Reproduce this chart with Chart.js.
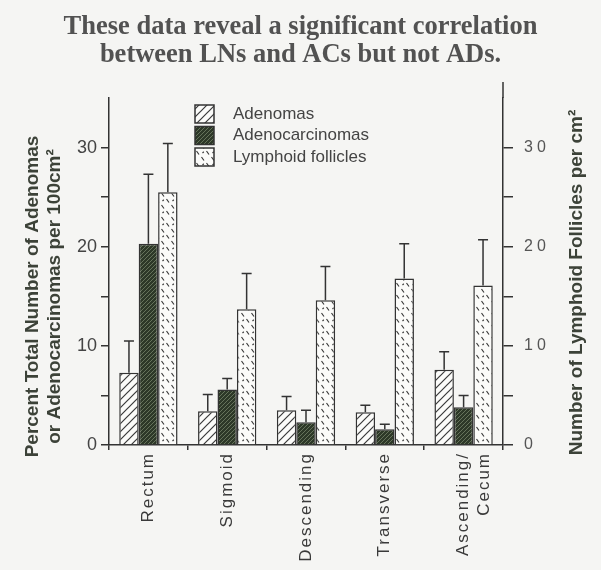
<!DOCTYPE html>
<html>
<head>
<meta charset="utf-8">
<script src="https://cdn.jsdelivr.net/npm/chart.js@4.4.0/dist/chart.umd.min.js"></script>
<style>
  html, body { margin: 0; padding: 0; background: #f5f5f3; }
  #wrap { width: 601px; height: 570px; }
</style>
</head>
<body>
<div id="wrap"><canvas id="cvs" width="601" height="570"></canvas></div>
<script>
;(function () {
  'use strict'

  var titleLines = ['These data reveal a significant correlation', 'between LNs and ACs but not ADs.']
  var categories = ['Rectum', 'Sigmoid', 'Descending', 'Transverse', ['Ascending/', 'Cecum']]
  var seriesNames = ['Adenomas', 'Adenocarcinomas', 'Lymphoid follicles']

  // left axis (percent per 100cm2)
  var adenomas = [7.3, 3.4, 3.5, 3.3, 7.6]
  var adenomasErr = [10.5, 5.1, 4.9, 4.0, 9.4]
  var adenocarcinomas = [20.3, 5.6, 2.3, 1.6, 3.8]
  var adenocarcinomasErr = [27.3, 6.7, 3.5, 2.1, 5.0]
  // right axis (follicles per cm2)
  var lymphoid = [25.5, 13.7, 14.6, 16.8, 16.1]
  var lymphoidErr = [30.4, 17.3, 18.0, 20.3, 20.7]

  var leftTitle = ['Percent Total Number of Adenomas', 'or Adenocarcinomas per 100cm\u00B2']
  var rightTitle = ['Number of Lymphoid Follicles per cm\u00B2']

  var ink = '#333333'
  var scratch = document.createElement('canvas').getContext('2d')

  var hatch = function (bg, fg, size, lw) {
    var c = document.createElement('canvas')
    c.width = size
    c.height = size
    var g = c.getContext('2d')
    g.fillStyle = bg
    g.fillRect(0, 0, size, size)
    g.strokeStyle = fg
    g.lineWidth = lw
    g.beginPath()
    g.moveTo(0, size)
    g.lineTo(size, 0)
    g.moveTo(-size / 2, size / 2)
    g.lineTo(size / 2, -size / 2)
    g.moveTo(size / 2, size * 1.5)
    g.lineTo(size * 1.5, size / 2)
    g.stroke()
    return scratch.createPattern(c, 'repeat')
  }

  var dashes = function () {
    var c = document.createElement('canvas')
    c.width = 10
    c.height = 12
    var g = c.getContext('2d')
    g.fillStyle = '#fbfbf9'
    g.fillRect(0, 0, 10, 12)
    g.strokeStyle = '#3a3a3a'
    g.lineWidth = 1.2
    g.beginPath()
    g.moveTo(1.5, 1)
    g.lineTo(4, 4.5)
    g.moveTo(6.5, 7)
    g.lineTo(9, 10.5)
    g.moveTo(2.5, 9)
    g.lineTo(3.8, 7.8)
    g.stroke()
    return scratch.createPattern(c, 'repeat')
  }

  var fills = [hatch('#fbfbf9', '#3a3a3a', 8, 1.2), hatch('#2d3828', '#66735b', 4, 1), dashes()]

  var background = {
    id: 'background',
    beforeDraw: function (chart) {
      var ctx = chart.ctx
      ctx.save()
      ctx.fillStyle = '#f5f5f3'
      ctx.fillRect(0, 0, chart.width, chart.height)
      ctx.restore()
    },
  }

  // spaced-out tick lettering as in the scan, and both axis titles read bottom-up
  var spacing = { x: '2px', y2: '4px' }
  var titleShift = { y: 25, y2: 11 }
  var scaleTweaks = {
    id: 'scaleTweaks',
    beforeDraw: function (chart) {
      Object.keys(spacing).forEach(function (id) {
        var scale = chart.scales[id]
        if (!scale || scale._spaced) return
        var orig = scale.drawLabels
        scale.drawLabels = function (area) {
          this.ctx.save()
          this.ctx.letterSpacing = spacing[id]
          orig.call(this, area)
          this.ctx.restore()
        }
        scale._spaced = true
      })
      Object.keys(titleShift).forEach(function (id) {
        var scale = chart.scales[id]
        if (!scale || scale._titled) return
        scale.drawTitle = function () {
          var t = this.options.title
          var lines = [].concat(t.text)
          var lh = t.font.size * t.font.lineHeight
          var ctx = this.ctx
          var x = this.position === 'left'
            ? this.left + t.padding.top + lh / 2
            : this.right - t.padding.top - lh / 2 - (lines.length - 1) * lh
          var y = (this.top + this.bottom) / 2 + titleShift[id]
          ctx.save()
          ctx.translate(x, y)
          ctx.rotate(-Math.PI / 2)
          ctx.font = 'bold ' + t.font.size + 'px ' + t.font.family
          ctx.fillStyle = t.color
          ctx.textAlign = 'center'
          ctx.textBaseline = 'middle'
          lines.forEach(function (line, k) {
            ctx.fillText(line, 0, k * lh)
          })
          ctx.restore()
        }
        scale._titled = true
      })
    },
  }

  var errorBars = {
    id: 'errorBars',
    afterDatasetsDraw: function (chart) {
      var ctx = chart.ctx
      ctx.save()
      ctx.strokeStyle = ink
      ctx.lineWidth = 1.5
      chart.data.datasets.forEach(function (ds, i) {
        var meta = chart.getDatasetMeta(i)
        var scale = chart.scales[ds.yAxisID]
        meta.data.forEach(function (bar, j) {
          var top = scale.getPixelForValue(ds.errorTop[j])
          ctx.beginPath()
          ctx.moveTo(bar.x, bar.y)
          ctx.lineTo(bar.x, top)
          ctx.moveTo(bar.x - 5, top)
          ctx.lineTo(bar.x + 5, top)
          ctx.stroke()
        })
      })
      // the right-hand axis line runs a little higher than the left one
      var r = chart.scales.y2
      ctx.beginPath()
      ctx.moveTo(r.left, chart.chartArea.top)
      ctx.lineTo(r.left, chart.chartArea.top - 16)
      ctx.stroke()
      ctx.restore()
    },
  }

  var boxLegend = {
    id: 'boxLegend',
    afterDraw: function (chart) {
      var ctx = chart.ctx
      ctx.save()
      ctx.font = '17px "Liberation Sans", Arial, sans-serif'
      ctx.textBaseline = 'middle'
      chart.data.datasets.forEach(function (ds, i) {
        var y = 105 + i * 21.5
        ctx.fillStyle = ds.backgroundColor
        ctx.fillRect(195, y, 19, 18)
        ctx.strokeStyle = ink
        ctx.lineWidth = 1.5
        ctx.strokeRect(195, y, 19, 18)
        ctx.fillStyle = '#444'
        ctx.fillText(ds.label, 233, y + 9)
      })
      ctx.restore()
    },
  }

  var tens = function (v) {
    return v % 10 === 0 ? String(v) : ''
  }
  var upTo30 = function (scale) {
    scale.ticks = scale.ticks.filter(function (t) {
      return t.value <= 30
    })
  }
  var axisTitleFont = { family: '"Liberation Sans", Arial, sans-serif', weight: 'bold', size: 19, lineHeight: 1.16 }

  var config = {
    type: 'bar',
    data: {
      labels: categories,
      datasets: [
        { label: seriesNames[0], data: adenomas, errorTop: adenomasErr, yAxisID: 'y', backgroundColor: fills[0] },
        { label: seriesNames[1], data: adenocarcinomas, errorTop: adenocarcinomasErr, yAxisID: 'y', backgroundColor: fills[1] },
        { label: seriesNames[2], data: lymphoid, errorTop: lymphoidErr, yAxisID: 'y2', backgroundColor: fills[2] },
      ],
    },
    options: {
      responsive: false,
      animation: false,
      devicePixelRatio: 1,
      layout: { padding: 0 },
      datasets: {
        bar: {
          borderColor: ink,
          borderWidth: 1.5,
          categoryPercentage: 0.74,
          barPercentage: 1,
        },
      },
      plugins: {
        legend: { display: false },
        tooltip: { enabled: false },
        title: {
          display: true,
          text: titleLines,
          color: '#525252',
          font: { family: '"Liberation Serif", "Times New Roman", serif', weight: 'bold', size: 26.5, lineHeight: 1.057 },
          padding: { top: 13, bottom: 29 },
        },
      },
      scales: {
        x: {
          grid: { offset: true, drawOnChartArea: false, tickLength: 5, color: ink, lineWidth: 1.5 },
          border: { color: ink, width: 1.5 },
          ticks: {
            color: '#3a3a3a',
            font: { family: '"Liberation Sans", Arial, sans-serif', size: 17 },
            minRotation: 90,
            maxRotation: 90,
            autoSkip: false,
            padding: 2,
          },
          afterFit: function (s) {
            s.height = 125
          },
        },
        y: {
          position: 'left',
          min: 0,
          max: 35,
          grid: { drawOnChartArea: false, tickLength: 8, color: ink, lineWidth: 1.5 },
          border: { color: ink, width: 1.5 },
          ticks: {
            stepSize: 5,
            callback: tens,
            color: '#444',
            font: { family: '"Liberation Sans", Arial, sans-serif', size: 18 },
            padding: 4,
          },
          title: {
            display: true,
            text: leftTitle,
            color: '#3c4238',
            font: axisTitleFont,
            padding: { top: 22, bottom: 0 },
          },
          afterBuildTicks: upTo30,
          afterFit: function (s) {
            s.width = 109
          },
        },
        y2: {
          position: 'right',
          min: 0,
          max: 35,
          grid: { drawOnChartArea: false, tickLength: 10, color: ink, lineWidth: 1.5 },
          border: { color: ink, width: 1.5 },
          ticks: {
            stepSize: 5,
            callback: tens,
            color: '#555',
            font: { family: '"Liberation Sans", Arial, sans-serif', size: 16 },
            padding: 11,
          },
          title: {
            display: true,
            text: rightTitle,
            color: '#3c4238',
            font: axisTitleFont,
            padding: { top: 13, bottom: 0 },
          },
          afterBuildTicks: upTo30,
          afterFit: function (s) {
            s.width = 98
          },
        },
      },
    },
    plugins: [background, scaleTweaks, errorBars, boxLegend],
  }

  new Chart(document.getElementById('cvs'), config)
})()
</script>
</body>
</html>
